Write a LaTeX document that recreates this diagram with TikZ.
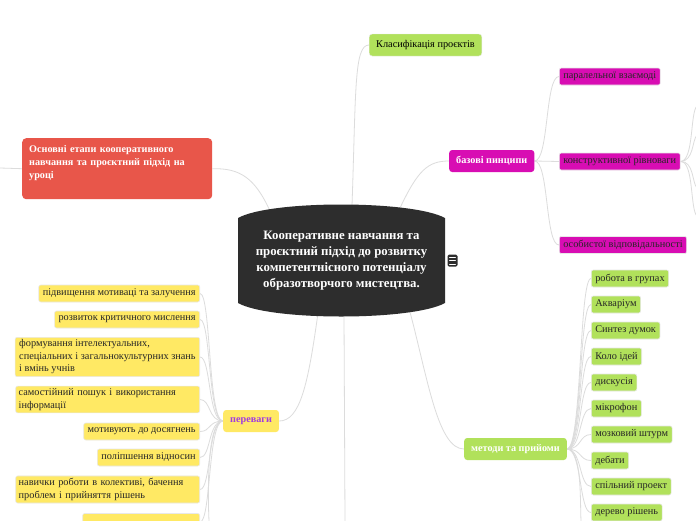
\documentclass[tikz,border=0pt]{standalone}
\usepackage{fontspec}
\setmainfont{Liberation Serif}
\usetikzlibrary{backgrounds}
\definecolor{MMDark}{HTML}{2D2D2D}
\definecolor{MMGreen}{HTML}{B1E15B}
\definecolor{MMMagenta}{HTML}{D80DB3}
\definecolor{MMRed}{HTML}{E8564A}
\definecolor{MMYellow}{HTML}{FFE964}
\definecolor{MMViolet}{HTML}{A13BE0}
\definecolor{MMLine}{HTML}{DCDCDC}
\tikzset{
  link/.style={draw=MMLine,line width=0.8pt},
  branch/.style={rounded corners=3pt,minimum height=22pt,inner xsep=7pt,inner ysep=2pt,
    font=\fontsize{10.2}{12}\selectfont\bfseries,text=white,anchor=west},
  leaf/.style={rounded corners=2pt,minimum height=17pt,inner xsep=4pt,inner ysep=2.5pt,
    font=\fontsize{10.3}{12.5}\selectfont,text=black!85,draw=black!9,line width=0.6pt},
  greenleaf/.style={leaf,fill=MMGreen,anchor=west},
  pinkleaf/.style={leaf,fill=MMMagenta,anchor=west},
  yellowleaf/.style={leaf,fill=MMYellow,anchor=east,align=left},
  wideleaf/.style={yellowleaf,text width=178pt,inner xsep=3pt}
}

\begin{document}
\begin{tikzpicture}[x=1pt,y=-1pt,line cap=round,line join=round]
  \useasboundingbox (0,0) rectangle (696,520);
  % central topic
  \fill[MMDark] (238,218) .. controls (270,200) and (412,200) .. (445,218) -- (445,303) .. controls (412,321) and (270,321) .. (238,303) -- cycle;
  \node[font=\fontsize{12.8}{16}\selectfont\bfseries,text=white,align=center] (hub) at (341.5,261) {Кооперативне навчання та\\проєктний підхід до розвитку\\компетентнісного потенціалу\\образотворчого мистецтва.};
  \coordinate (hubNW) at (270,211);
  \coordinate (hubN) at (352,206);
  \coordinate (hubNE) at (400,208);
  \coordinate (hubSW) at (318,313);
  \coordinate (hubS) at (344,315);
  \coordinate (hubSE) at (410,312);
  \node[fill=MMDark,rounded corners=1.5pt,minimum width=10pt,minimum height=12pt,inner sep=0pt] (note) at (452.5,260.5) {};
  \draw[white,line width=0.8pt] (449.5,257) -- (455.5,257) (449.5,260.5) -- (455.5,260.5) (449.5,264) -- (455.5,264);

  % main branches
  \node[fill=MMRed,rounded corners=4pt,text=white,font=\fontsize{10.2}{13}\selectfont\bfseries,align=left,text width=176pt,inner xsep=7pt,inner ysep=5pt,text height=9pt,text depth=42pt,anchor=north west] (osn) at (22,138) {Основні етапи кооперативного\\навчання та проєктний підхід на\\уроці};
  \coordinate (osnOut) at (0,168);
  \node[branch,fill=MMGreen,text=black,font=\fontsize{10.3}{12}\selectfont,draw=black!9] (klas) at (369,45) {Класифікація проєктів};
  \node[branch,fill=MMMagenta] (baz) at (449,161) {базові пинципи};
  \node[branch,fill=MMGreen] (met) at (464,449) {методи та прийоми};
  \node[branch,fill=MMYellow,text=MMViolet] (per) at (223,421) {переваги};

  % базові пинципи
  \node[pinkleaf] (par) at (559,76.5) {паралельної взаємоді};
  \node[pinkleaf] (kon) at (559,161.5) {конструктивної рівноваги};
  \node[pinkleaf] (osob) at (559,245) {особистої відповідальності};
  \coordinate (konA) at (697,106);
  \coordinate (konB) at (697,135);
  \coordinate (konC) at (697,188);
  \coordinate (konD) at (697,216);

  % переваги
  \node[yellowleaf] (p1) at (200,293.5) {підвищення мотиваці та залучення};
  \node[yellowleaf] (p2) at (200,319.5) {розвиток критичного мислення};
  \node[yellowleaf] (p3) at (200,357) {формування інтелектуальних,\\спеціальних і загальнокультурних знань\\і вмінь учнів};
  \node[wideleaf] (p4) at (200,399.5) {самостійний пошук і використання\\інформації};
  \node[yellowleaf] (p5) at (200,431.5) {мотивують до досягнень};
  \node[yellowleaf] (p6) at (200,457.5) {поліпшення відносин};
  \node[wideleaf] (p7) at (200,489.5) {навички роботи в колективі, бачення\\проблем і прийняття рішень};
  \node[yellowleaf,minimum width=117pt] (p8) at (200,522) {};
  \coordinate (perOut) at (209,521);
  \coordinate (hubOut) at (345,521);

  % методи та прийоми
  \node[greenleaf] (m1) at (591,278.5) {робота в групах};
  \node[greenleaf] (m2) at (591,304.5) {Акваріум};
  \node[greenleaf] (m3) at (591,330.5) {Синтез думок};
  \node[greenleaf] (m4) at (591,356.5) {Коло ідей};
  \node[greenleaf] (m5) at (591,382.5) {дискусія};
  \node[greenleaf] (m6) at (591,408.5) {мікрофон};
  \node[greenleaf] (m7) at (591,434.5) {мозковий штурм};
  \node[greenleaf] (m8) at (591,460.5) {дебати};
  \node[greenleaf] (m9) at (591,486.5) {спільний проект};
  \node[greenleaf] (m10) at (591,512.5) {дерево рішень};
  \coordinate (metOut) at (581,521);

  \begin{scope}[on background layer]
    \fill[white] (0,0) rectangle (696,520);
    \draw[link] (hubNW) .. controls (255,178) and (240,168) .. (osn.east);
    \draw[link] (osn.west) -- (osnOut);
    \draw[link] (hubN) .. controls (356,90) and (354,45) .. (klas.west);
    \draw[link] (hubNE) .. controls (418,170) and (428,161) .. (baz.west);
    \draw[link] (hubSW) .. controls (308,385) and (300,421) .. (per.east);
    \draw[link] (hubS) -- (hubOut);
    \draw[link] (hubSE) .. controls (428,380) and (438,449) .. (met.west);

    \draw[link] (baz.east) .. controls (549,161) and (545,76.5) .. (par.west);
    \draw[link] (baz.east) -- (kon.west);
    \draw[link] (baz.east) .. controls (549,161) and (545,245) .. (osob.west);
    \draw[link] (kon.east) .. controls (694,161) and (690,112) .. (konA);
    \draw[link] (kon.east) .. controls (694,161) and (692,140) .. (konB);
    \draw[link] (kon.east) .. controls (694,161) and (692,183) .. (konC);
    \draw[link] (kon.east) .. controls (694,161) and (690,210) .. (konD);

    \draw[link] (per.west) .. controls (208,421) and (211,293.5) .. (p1.east);
    \draw[link] (per.west) .. controls (208,421) and (211,319.5) .. (p2.east);
    \draw[link] (per.west) .. controls (208,421) and (211,357) .. (p3.east);
    \draw[link] (per.west) .. controls (208,421) and (211,399.5) .. (p4.east);
    \draw[link] (per.west) .. controls (208,421) and (211,431.5) .. (p5.east);
    \draw[link] (per.west) .. controls (208,421) and (211,457.5) .. (p6.east);
    \draw[link] (per.west) .. controls (208,421) and (211,489.5) .. (p7.east);
    \draw[link] (per.west) .. controls (208,421) and (211,522) .. (p8.east);
    \draw[link] (per.west) .. controls (206,421) and (208,500) .. (perOut);

    \draw[link] (met.east) .. controls (582,449) and (579,278.5) .. (m1.west);
    \draw[link] (met.east) .. controls (582,449) and (579,304.5) .. (m2.west);
    \draw[link] (met.east) .. controls (582,449) and (579,330.5) .. (m3.west);
    \draw[link] (met.east) .. controls (582,449) and (579,356.5) .. (m4.west);
    \draw[link] (met.east) .. controls (582,449) and (579,382.5) .. (m5.west);
    \draw[link] (met.east) .. controls (582,449) and (579,408.5) .. (m6.west);
    \draw[link] (met.east) .. controls (582,449) and (579,434.5) .. (m7.west);
    \draw[link] (met.east) .. controls (582,449) and (579,460.5) .. (m8.west);
    \draw[link] (met.east) .. controls (582,449) and (579,486.5) .. (m9.west);
    \draw[link] (met.east) .. controls (582,449) and (579,512.5) .. (m10.west);
    \draw[link] (met.east) .. controls (582,449) and (580,500) .. (metOut);
  \end{scope}
\end{tikzpicture}
\end{document}
